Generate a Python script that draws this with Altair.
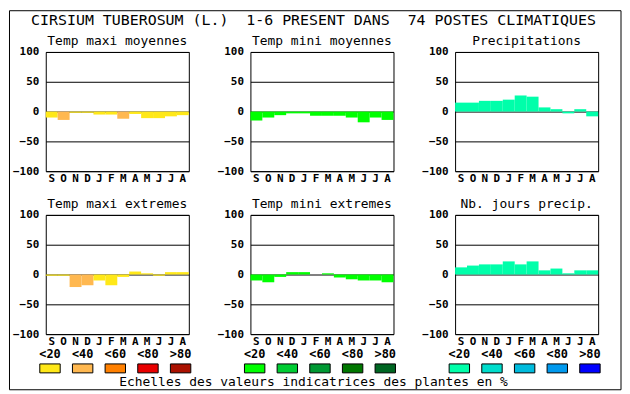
import altair as alt
import pandas as pd

months = ["Sep", "Oct", "Nov", "Dec", "Jan", "Feb", "Mar", "Apr", "May", "Jun", "Jul", "Aug"]
classes = ["<20", "<40", "<60", "<80", ">80"]

tmax_moy = [-10, -14, -2, -2, -5, -5, -12, -4, -11, -11, -8, -6]
tmax_moy_cls = ["<20", "<40", "<20", "<20", "<20", "<20", "<40", "<20", "<20", "<20", "<20", "<20"]
tmin_moy = [-15, -10, -6, -3, -3, -7, -7, -7, -10, -18, -10, -14]
tmin_moy_cls = ["<20"] * 12
precip = [15, 15, 18, 18, 20, 27, 25, 7, 4, -3, 4, -8]
precip_cls = ["<20"] * 12
tmax_ext = [-2, -2, -21, -18, -10, -18, -4, 5, 2, -2, 4, 4]
tmax_ext_cls = ["<20", "<20", "<40", "<40", "<20", "<20", "<20", "<20", "<20", "<20", "<20", "<20"]
tmin_ext = [-10, -13, -4, 4, 4, 0, 2, -5, -8, -10, -10, -13]
tmin_ext_cls = ["<20"] * 12
nb_jours = [12, 15, 17, 17, 22, 17, 22, 7, 10, 2, 7, 7]
nb_jours_cls = ["<20"] * 12

warm = ["#FFE818", "#FFB850", "#FF8000", "#E80000", "#AA1100"]
green = ["#00FF00", "#00CC33", "#009933", "#007700", "#006622"]
blue = ["#00FFAA", "#00DDCC", "#00BBDD", "#0099EE", "#0000FF"]

main_title = "CIRSIUM TUBEROSUM (L.) \u00a01-6 PRESENT DANS \u00a074 POSTES CLIMATIQUES"
footnote = "Echelles des valeurs indicatrices des plantes en %"

MONO = "DejaVu Sans Mono"
W, H = 144, 120
one = pd.DataFrame({"a": [0]})


def panel(title, values, cls, palette, extra=()):
    df = pd.DataFrame({"month": months, "value": values, "cls": cls})
    bars = alt.Chart(df).mark_bar().encode(
        x=alt.X("month:N", sort=months,
                scale=alt.Scale(paddingInner=0, paddingOuter=0),
                axis=alt.Axis(title="", labelExpr="substring(datum.label,0,1)", labelAngle=0,
                              ticks=False, domain=False, grid=False, labelPadding=1,
                              labelFont=MONO, labelFontSize=11, labelFontWeight="bold",
                              labelColor="black")),
        y=alt.Y("value:Q", scale=alt.Scale(domain=[-100, 100], nice=False),
                axis=alt.Axis(title="", values=[-100, -50, 0, 50, 100], grid=True,
                              gridColor="black", gridOpacity=1, gridWidth=1,
                              ticks=False, domain=False, labelPadding=7, labelFlush=False,
                              labelOverlap=False, labelFont=MONO, labelFontSize=11,
                              labelFontWeight="bold", labelColor="black")),
        color=alt.Color("cls:N", scale=alt.Scale(domain=classes, range=palette), legend=None),
    )
    ttl = alt.Chart(pd.DataFrame({"t": [title]})).mark_text(
        font=MONO, fontSize=13, baseline="alphabetic", align="center", color="black"
    ).encode(text="t:N", x=alt.value(W / 2), y=alt.value(-7))
    return alt.layer(bars, ttl, *extra).properties(width=W, height=H)


def legend(palette, extra=()):
    df = pd.DataFrame({"cls": classes})
    x = alt.X("cls:N", sort=classes,
              scale=alt.Scale(range=[-6, 146], paddingInner=0.375, paddingOuter=0),
              axis=None)
    boxes = alt.Chart(df).mark_rect(stroke="black", strokeWidth=1).encode(
        x=x, y=alt.value(-14), y2=alt.value(-5),
        color=alt.Color("cls:N", scale=alt.Scale(domain=classes, range=palette), legend=None))
    labels = alt.Chart(df).mark_text(
        font=MONO, fontSize=12, fontWeight="bold", baseline="alphabetic", color="black"
    ).encode(x=x, text="cls:N", y=alt.value(-19.7))
    return alt.layer(boxes, labels, *extra).properties(
        width=W, height=1, view=alt.ViewBackground(strokeOpacity=0))


frame = alt.Chart(one).mark_rect(fill="transparent", stroke="black", strokeWidth=1).encode(
    x=alt.value(-36.5), x2=alt.value(579), y=alt.value(-41.5), y2=alt.value(340))
title_mark = alt.Chart(pd.DataFrame({"t": [main_title]})).mark_text(
    font=MONO, fontSize=15, baseline="alphabetic", align="center", color="black"
).encode(text="t:N", x=alt.value(269.5), y=alt.value(-27.3))
foot_mark = alt.Chart(pd.DataFrame({"t": [footnote]})).mark_text(
    font=MONO, fontSize=13, baseline="alphabetic", align="center", color="black"
).encode(text="t:N", x=alt.value(63.5), y=alt.value(8.7))

p1 = panel("Temp maxi moyennes", tmax_moy, tmax_moy_cls, warm, extra=(frame, title_mark))
p2 = panel("Temp mini moyennes", tmin_moy, tmin_moy_cls, green)
p3 = panel("Precipitations", precip, precip_cls, blue)
p4 = panel("Temp maxi extremes", tmax_ext, tmax_ext_cls, warm)
p5 = panel("Temp mini extremes", tmin_ext, tmin_ext_cls, green)
p6 = panel("Nb. jours precip.", nb_jours, nb_jours_cls, blue)

l1 = legend(warm)
l2 = legend(green, extra=(foot_mark,))
l3 = legend(blue)

chart = alt.concat(
    p1, p2, p3, p4, p5, p6, l1, l2, l3,
    columns=3, spacing=alt.RowColnumber(row=44, column=62), bounds="flush",
).resolve_scale(color="independent", x="independent", y="independent").properties(
    padding=0, background="white"
).configure_view(stroke="black", strokeWidth=1)

chart.save("out.html", embed_options={"renderer": "svg", "actions": False})
